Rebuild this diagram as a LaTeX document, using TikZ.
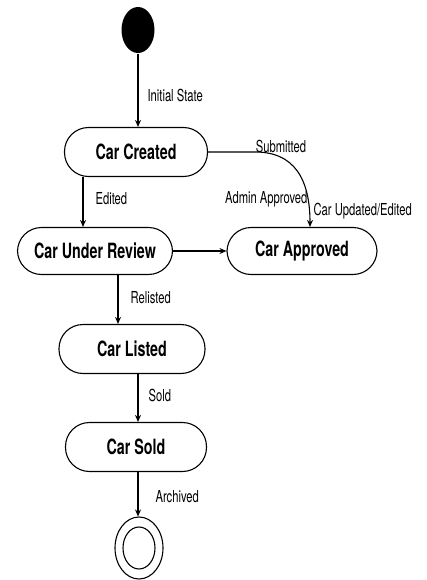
\documentclass[tikz,border=0pt]{standalone}
\usepackage{fontspec}
\setmainfont{TeX Gyre Heros}[FakeStretch=0.68]
\usetikzlibrary{shapes.geometric,arrows.meta}

\tikzset{
	state/.style={draw,rounded corners=24pt,minimum height=49pt,inner sep=0pt,font=\fontsize{21}{24}\selectfont\bfseries},
	lbl/.style={font=\fontsize{16.5}{19}\selectfont,inner sep=0pt}
}

\begin{document}
\begin{tikzpicture}[x=1pt,y=-1pt,line width=1.1pt,>={Stealth[length=7pt,width=6pt]}]
			\useasboundingbox[fill=white] (0,0) rectangle (426,580);
			
			\node[ellipse,fill=black,minimum width=33pt,minimum height=46pt,inner sep=0pt] (init) at (138,30) {};
			
			\node[state,minimum width=143pt] (created) at (136,152) {Car Created};
			\node[state,minimum width=155pt,minimum height=47pt] (review) at (95,251) {Car Under Review};
			\node[state,minimum width=150pt,minimum height=47pt] (approved) at (302,251) {Car Approved};
			\node[state,minimum width=146pt] (listed) at (132,349) {Car Listed};
			\node[state,minimum width=141pt] (sold) at (136,447) {Car Sold};
			
			\node[ellipse,draw,minimum width=48pt,minimum height=62pt,inner sep=0pt] (final) at (139,548) {};
			\node[ellipse,draw,minimum width=32pt,minimum height=42pt,inner sep=0pt] (finalin) at (139,548) {};
		
			\path[draw,->] (init) -- (init |- created.north);
			\path[draw,->] ([xshift=-53pt]created.south) -- ([xshift=-53pt]created.south |- review.north);
			\path[draw,->] (review) -- (approved);
			\path[draw,->] ([xshift=23pt]review.south) -- ([xshift=23pt]review.south |- listed.north);
			\path[draw,->] ([xshift=6pt]listed.south) -- ([xshift=6pt]listed.south |- sold.north);
			\path[draw,->] ([xshift=2pt]sold.south) -- ([xshift=2pt]sold.south |- final.north);
			
			\draw[->] (created.east) -- ++(45,0) .. controls (295,151) and (310,180) .. ([xshift=8pt]approved.north);
			
			\node[lbl,anchor=west] (lInit) at (147,95) {Initial State};
			\node[lbl,anchor=west] (lEdited) at (95,199) {Edited};
			\node[lbl] (lSubmitted) at (281,146) {Submitted};
			\node[lbl,anchor=east] (lAdmin) at (308,199) {Admin Approved};
			\node[lbl,anchor=west] (lUpdated) at (313,211) {Car Updated/Edited};
			\node[lbl,anchor=west] (lRelisted) at (130,298) {Relisted};
			\node[lbl,anchor=west] (lSold) at (148,395) {Sold};
			\node[lbl,anchor=west] (lArchived) at (155,497) {Archived};
		\end{tikzpicture}
\end{document}
